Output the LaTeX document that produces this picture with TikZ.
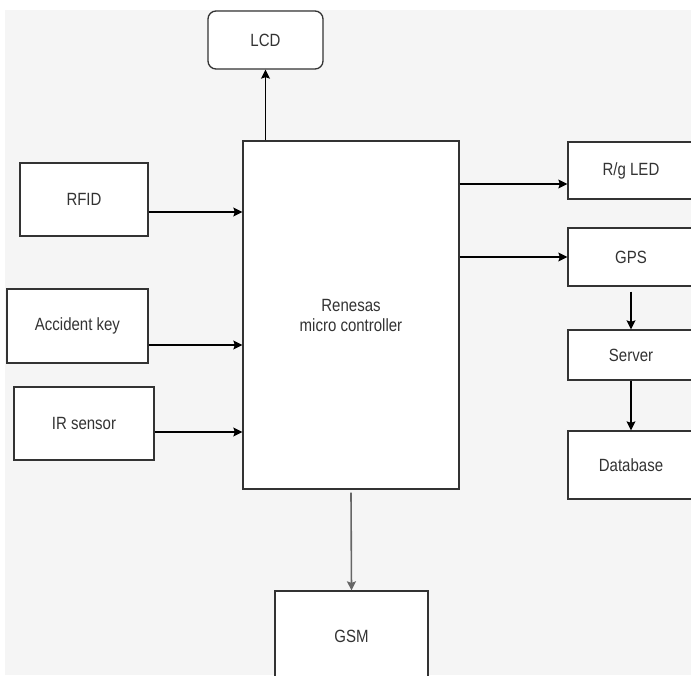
\documentclass[tikz,border=0pt]{standalone}
\usepackage{fontspec}
\setmainfont{Liberation Sans}
\usetikzlibrary{arrows.meta}
\definecolor{bg}{HTML}{F5F5F5}
\definecolor{edge}{HTML}{333333}
\definecolor{txt}{HTML}{333333}
\newcommand{\stx}[1]{\scalebox{1}[1.18]{#1}}
\begin{document}
\begin{tikzpicture}[x=1pt,y=-1pt,
  box/.style={draw=edge, line width=1.3pt, fill=white, inner sep=0pt, align=center,
    font=\fontsize{15}{20}\selectfont, text=txt},
  arr/.style={draw=black, line width=1.2pt, -{Stealth[length=9pt,width=9pt,inset=1.5pt]}}]
\clip (0,0) rectangle (691,675);
\fill[white] (0,0) rectangle (691,675);
\fill[bg] (5,10) rectangle (691,675);
% nodes
\node[box, minimum width=216pt, minimum height=348pt] (main) at (351,315) {\stx{Renesas}\\\stx{micro controller}};
\node[box, rounded corners=8pt, minimum width=115pt, minimum height=58pt] (lcd) at (265.5,40) {\stx{LCD}};
\node[box, minimum width=128pt, minimum height=73pt] (rfid) at (84,199.5) {\stx{RFID}};
\node[box, minimum width=141pt, minimum height=74pt] (acc) at (77.5,326) {\stx{Accident key}};
\node[box, minimum width=140pt, minimum height=73pt] (ir) at (84,423.5) {\stx{IR sensor}};
\node[box, minimum width=126pt, minimum height=57pt] (rg) at (631,170.5) {\stx{R/g LED}};
\node[box, minimum width=126pt, minimum height=58pt] (gps) at (631,257) {\stx{GPS}};
\node[box, minimum width=126pt, minimum height=50pt] (server) at (631,355) {\stx{Server}};
\node[box, minimum width=126pt, minimum height=68pt] (db) at (631,465) {\stx{Database}};
\node[box, minimum width=153pt, minimum height=90pt] (gsm) at (351.5,636) {\stx{GSM}};
% connectors
\coordinate (c1) at ([yshift=-12.5pt]rfid.east);
\coordinate (c2) at ([yshift=-19pt]acc.east);
\coordinate (c3) at ([yshift=-8.5pt]ir.east);
\coordinate (c4) at ([yshift=-13.5pt]rg.west);
\draw[arr] (c1) -- (c1 -| main.west);
\draw[arr] (c2) -- (c2 -| main.west);
\draw[arr] (c3) -- (c3 -| main.west);
\draw[arr] (c4 -| main.east) -- (c4);
\draw[arr] (gps.west -| main.east) -- (gps.west);
\draw[arr] (lcd.south |- main.north) -- (lcd.south);
\draw[arr] ([yshift=-5pt]gps.south) -- (server.north);
\draw[arr] (server.south) -- (db.north);
\draw[arr, draw=black!60, line width=1.6pt] ([yshift=-3pt]main.south) -- (gsm.north);
\end{tikzpicture}
\end{document}
